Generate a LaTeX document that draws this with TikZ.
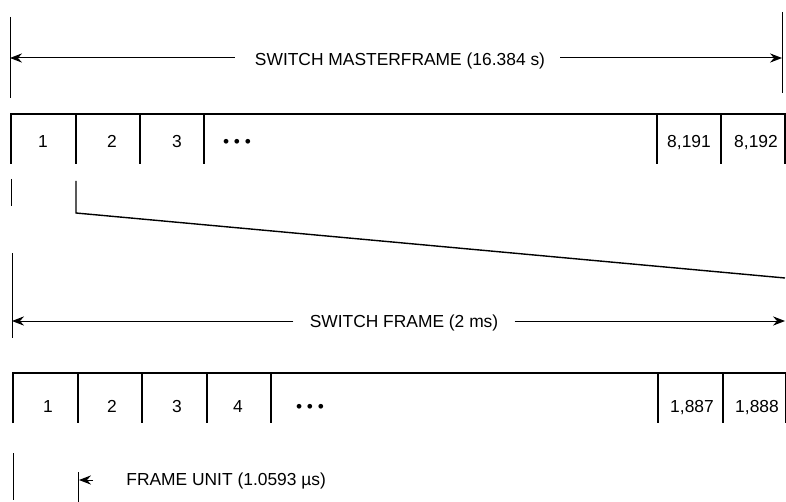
\documentclass[tikz,border=0pt]{standalone}
\usepackage{fontspec}
\setmainfont{Liberation Sans}
\usetikzlibrary{arrows.meta}

\begin{document}
\begin{tikzpicture}[x=0.5pt,y=-0.5pt,
  font=\fontsize{8.7}{10}\selectfont,
  tick/.style={line width=0.5pt},
  span/.style={line width=0.5pt,-{Stealth[length=6pt,width=4.6pt,inset=2pt]}},
  frameline/.style={line width=1pt},
  zoomline/.style={line width=0.7pt},
  lbl/.style={anchor=base,inner sep=1pt}]
\useasboundingbox (0,0) rectangle (786,502);

% masterframe span
\draw[tick] (10,17) -- (10,98);
\draw[tick] (782,12) -- (782,93);
\coordinate (mleft) at (10,58);
\coordinate (mright) at (782,58);
\node[lbl] (mtitle) at (400,66) {SWITCH MASTERFRAME (16.384 s)};
\draw[span,shorten <=9pt] (mtitle.west |- mleft) -- (mleft);
\draw[span,shorten <=6.5pt] (mtitle.east |- mright) -- (mright);

% masterframe slots
\draw[frameline] (11,164) -- (11,114) -- (786,114);
\draw[frameline] (76,114) -- (76,164) (140,114) -- (140,164)
  (204,114) -- (204,164) (657,114) -- (657,164)
  (721,114) -- (721,164) (785,114) -- (785,164);
\node[lbl] (m1) at (43,148) {1};
\node[lbl] (m2) at (112,148) {2};
\node[lbl] (m3) at (177,148) {3};
\node[lbl] (mdots) at (237,148) {• • •};
\node[lbl] (m8191) at (689,148) {8,191};
\node[lbl] (m8192) at (756,148) {8,192};

% zoom onto slot 2
\draw[tick] (11,179) -- (11,206);
\coordinate (zstart) at (76,181);
\coordinate (zknee) at (76,213);
\coordinate (zend) at (785,278);
\draw[zoomline] (zstart) -- (zknee) -- (zend);

% frame span
\draw[tick] (12,253) -- (12,338);
\coordinate (fleft) at (12,321);
\coordinate (fright) at (785,321);
\node[lbl] (ftitle) at (404,327) {SWITCH FRAME (2 ms)};
\draw[span,shorten <=7pt] (ftitle.west |- fleft) -- (fleft);
\draw[span,shorten <=7pt] (ftitle.east |- fright) -- (fright);

% frame units
\draw[frameline] (13,423) -- (13,373) -- (786,373);
\draw[frameline] (78,373) -- (78,423) (142,373) -- (142,423)
  (207,373) -- (207,423) (271,373) -- (271,423)
  (658,373) -- (658,423) (723,373) -- (723,423);
\draw[tick] (785,373) -- (785,423);
\node[lbl] (f1) at (48,412) {1};
\node[lbl] (f2) at (112,412) {2};
\node[lbl] (f3) at (177,412) {3};
\node[lbl] (f4) at (238,412) {4};
\node[lbl] (fdots) at (310,412) {• • •};
\node[lbl] (f1887) at (692,412) {1,887};
\node[lbl] (f1888) at (757,412) {1,888};

% frame unit
\draw[tick] (13,453) -- (13,500);
\draw[tick] (78,472) -- (78,502);
\coordinate (uleft) at (79,480);
\coordinate (utail) at (93,480);
\node[lbl,anchor=base west] (utitle) at (124,485) {FRAME UNIT (1.0593 µs)};
\draw[span] (utail) -- (uleft);
\end{tikzpicture}
\end{document}
